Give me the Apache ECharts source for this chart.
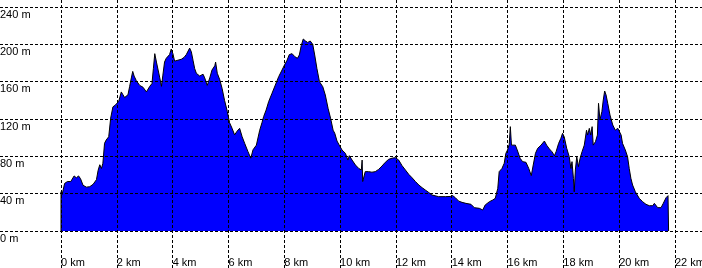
<!DOCTYPE html>
<html>
<head>
<meta charset="utf-8">
<script src="https://cdn.jsdelivr.net/npm/echarts@6/dist/echarts.min.js"></script>
<style>
html,body{margin:0;padding:0;background:#fff;}
#c{width:702px;height:268px;}
</style>
</head>
<body>
<div id="c"></div>
<script>
// Distance along the route (km)
const distanceKm = [
  0, 0.00, 0.04, 0.13, 0.23, 0.35, 0.47, 0.55, 0.63, 0.70, 0.79, 0.91, 1.03, 1.15, 1.27, 1.33, 1.39, 1.45, 1.50,
  1.56, 1.62, 1.71, 1.78, 1.86, 1.95, 2.07, 2.16, 2.22, 2.28, 2.34, 2.40, 2.46, 2.52, 2.57, 2.62, 2.70,
  2.82, 2.94, 3.06, 3.18, 3.26, 3.31, 3.36, 3.42, 3.48, 3.54, 3.60, 3.65, 3.71, 3.77, 3.83, 3.89, 3.95,
  4.01, 4.07, 4.19, 4.31, 4.41, 4.49, 4.61, 4.67, 4.73, 4.79, 4.85, 4.97, 5.09, 5.15, 5.24, 5.33, 5.41,
  5.51, 5.54, 5.60, 5.69, 5.77, 5.86, 5.96, 6.04, 6.13, 6.22, 6.31, 6.40, 6.49, 6.58, 6.70, 6.80, 6.88,
  7.00, 7.12, 7.20, 7.26, 7.35, 7.44, 7.56, 7.68, 7.80, 7.92, 8.01, 8.10, 8.18, 8.28, 8.37, 8.47, 8.54,
  8.61, 8.68, 8.76, 8.84, 8.93, 9.02, 9.09, 9.17, 9.26, 9.38, 9.47, 9.57, 9.66, 9.75, 9.81, 9.89, 9.97,
  10.07, 10.19, 10.28, 10.33, 10.43, 10.55, 10.67, 10.76, 10.79, 10.81, 10.90, 11.02, 11.14, 11.26, 11.38,
  11.50, 11.62, 11.74, 11.86, 11.98, 12.10, 12.22, 12.34, 12.46, 12.58, 12.70, 12.82, 12.94, 13.05, 13.17,
  13.29, 13.35, 13.53, 13.77, 13.95, 14.03, 14.13, 14.25, 14.37, 14.51, 14.69, 14.81, 14.99, 15.11, 15.20,
  15.35, 15.47, 15.56, 15.65, 15.70, 15.80, 15.88, 15.94, 16.00, 16.06, 16.10, 16.14, 16.21, 16.28, 16.36,
  16.45, 16.54, 16.66, 16.76, 16.85, 16.92, 17.00, 17.08, 17.20, 17.32, 17.40, 17.50, 17.59, 17.68, 17.74,
  17.83, 17.91, 17.97, 18.03, 18.12, 18.21, 18.27, 18.31, 18.36, 18.39, 18.43, 18.48, 18.54, 18.60, 18.67,
  18.75, 18.83, 18.87, 18.93, 18.98, 19.03, 19.07, 19.15, 19.22, 19.26, 19.31, 19.38, 19.43, 19.48, 19.53,
  19.59, 19.67, 19.77, 19.86, 19.95, 20.00, 20.07, 20.12, 20.22, 20.30, 20.36, 20.42, 20.48, 20.58, 20.72,
  20.84, 20.96, 21.08, 21.20, 21.26, 21.32, 21.38, 21.50, 21.58, 21.68, 21.75, 21.77, 21.77
];
// Elevation (m)
const elevationM = [
  0, 42, 39, 51, 53, 53, 59, 57, 59, 56, 49, 47, 47.5, 50, 55, 65, 71, 67, 72.5,
  94, 97.5, 101, 121, 133, 135, 139, 149, 146, 143, 145, 146, 155, 164, 171, 166, 161,
  156, 154, 149, 155, 158, 174, 190, 181, 172.5, 164, 155, 167, 181, 185, 183, 189, 195,
  190, 182, 183, 184, 186, 189, 196, 192, 183, 174, 169, 166, 168, 164, 156, 164, 172.5,
  177, 181, 169, 162, 153, 140, 128, 116, 110, 103, 107, 110, 101, 94, 85, 78, 87,
  92, 108, 116, 122.5, 129.6, 138.6, 147.5, 156.4, 165.4, 172.5, 178, 183, 189, 190, 187, 185, 188.6,
  199, 205.7, 203.6, 202, 203.6, 200, 188.6, 174, 160, 154.6, 145.7, 131.4, 120.7, 108, 104.6, 96.4, 92,
  86.8, 83.2, 76, 80.7, 76, 70.7, 67, 65.4, 76, 53, 63.6, 63.6, 63, 63.6, 66,
  69.6, 73.6, 76.8, 78, 78.6, 76, 70, 65.4, 60.7, 57, 53, 49.3, 46.4, 44, 41.4,
  38.6, 36.8, 36.8, 36.8, 37, 38, 35.7, 32, 30.7, 29.6, 28.6, 25, 24.3, 22.5, 27.9,
  31.4, 33.2, 35, 45.7, 63.6, 67, 72.5, 83.2, 86.8, 92.9, 111.8, 92, 93.9, 92, 85.7,
  77.9, 74.3, 73.6, 67, 59.3, 70.7, 83.2, 88.6, 92, 96.4, 92, 87.9, 85, 80.7, 85,
  93.9, 99.3, 104.6, 101, 88.6, 79.6, 67, 74.3, 56.4, 42, 65.4, 79.6, 68.9, 77.9, 85,
  92, 108, 102.8, 110, 102.8, 111.8, 92, 95.7, 102.8, 136.8, 119, 127.9, 140.4, 150, 145.7,
  136.8, 124.3, 113.6, 108, 110, 110, 102.8, 93.9, 86.8, 79.6, 67, 56.4, 49.3, 42, 35,
  31.4, 28.6, 27.1, 27.1, 29.6, 27.9, 25, 25, 29.6, 35.7, 37.9, 37.9, 0
];
// Tick values
const kmTicks = [0, 2, 4, 6, 8, 10, 12, 14, 16, 18, 20, 22];
const mTicks = [0, 40, 80, 120, 160, 200, 240];

const points = distanceKm.map((d, i) => [d, elevationM[i]]);

// Plot geometry: 0 km at x=61, 22 km at x=675; 0 m at y=231, 240 m at y=7
const pxPerKm = 614 / 22;
const pxPerM = 224 / 240;
const kmMin = -61 / pxPerKm;
const kmMax = (702 - 61) / pxPerKm;
const mMax = 231 / pxPerM;
const mMin = -(268 - 231) / pxPerM;

const gridLine = {show: true, lineStyle: {color: '#000', width: 1, type: [3, 2]}};
const font = 'Liberation Sans, Arial, sans-serif';

const chart = echarts.init(document.getElementById('c'), null, {renderer: 'canvas'});
chart.setOption({
  animation: false,
  backgroundColor: '#fff',
  grid: {left: 0, right: 0, top: 0, bottom: 0, containLabel: false, outerBoundsMode: 'none'},
  xAxis: {
    type: 'value', min: kmMin, max: kmMax, z: 5,
    axisLine: {show: false, onZero: false},
    axisTick: {show: false, customValues: kmTicks},
    splitLine: gridLine,
    axisLabel: {
      customValues: kmTicks, inside: true, margin: 5, align: 'left', verticalAlign: 'middle',
      hideOverlap: false,
      formatter: v => v + ' km', color: '#000', fontSize: 11, fontFamily: font
    }
  },
  yAxis: {
    type: 'value', min: mMin, max: mMax, z: 5,
    axisLine: {show: false, onZero: false},
    axisTick: {show: false, customValues: mTicks},
    splitLine: gridLine,
    axisLabel: {
      customValues: mTicks, inside: true, margin: 0, align: 'left', verticalAlign: 'top',
      padding: [2, 0, 0, 0], hideOverlap: false,
      formatter: v => v + ' m', color: '#000', fontSize: 11, fontFamily: font
    }
  },
  series: [{
    type: 'line', data: points, symbol: 'none', showSymbol: false,
    lineStyle: {color: '#000', width: 1},
    areaStyle: {color: '#0000ff', opacity: 1, origin: 0},
    z: 2
  }]
});
</script>
</body>
</html>
